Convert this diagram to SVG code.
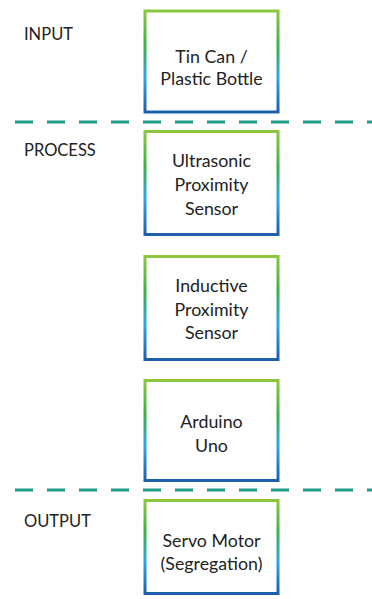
<svg xmlns="http://www.w3.org/2000/svg" width="372" height="599" viewBox="0 0 372 599">
<defs>
<linearGradient id="g" x1="0" y1="0" x2="0" y2="1">
<stop offset="0" stop-color="#8cc63f"/>
<stop offset="0.35" stop-color="#3bb04a"/>
<stop offset="0.65" stop-color="#2aaae0"/>
<stop offset="1" stop-color="#1d5fab"/>
</linearGradient>
<style>
.box{fill:#ffffff;stroke:url(#g);stroke-width:3}
.t{font-family:Lato,"Open Sans",sans-serif;font-size:17.8px;fill:#222;text-anchor:middle}
.lab{font-family:Lato,"Open Sans",sans-serif;font-size:16.5px;fill:#222}
.dash{stroke:#1f9e86;stroke-width:3;stroke-dasharray:18 14;fill:none}
</style>
</defs>
<rect width="372" height="599" fill="#ffffff"/>
<g id="connectors">
<line class="dash" x1="15" y1="122" x2="372" y2="122"/>
<line class="dash" x1="15" y1="490" x2="372" y2="490"/>
</g>
<g id="labels">
<text class="lab" x="24" y="40">INPUT</text>
<text class="lab" x="24" y="156">PROCESS</text>
<text class="lab" x="24" y="527">OUTPUT</text>
</g>
<g id="n1">
<rect class="box" x="145" y="11" width="133" height="101"/>
<text class="t" x="211.5" y="63">Tin Can /</text>
<text class="t" x="211.5" y="85">Plastic Bottle</text>
</g>
<g id="n2">
<rect class="box" x="145" y="131.5" width="133" height="103"/>
<text class="t" x="211.5" y="167">Ultrasonic</text>
<text class="t" x="211.5" y="191">Proximity</text>
<text class="t" x="211.5" y="215">Sensor</text>
</g>
<g id="n3">
<rect class="box" x="145" y="256.5" width="133" height="103"/>
<text class="t" x="211.5" y="292">Inductive</text>
<text class="t" x="211.5" y="315.5">Proximity</text>
<text class="t" x="211.5" y="339">Sensor</text>
</g>
<g id="n4">
<rect class="box" x="145" y="380.5" width="133" height="100"/>
<text class="t" x="211.5" y="428">Arduino</text>
<text class="t" x="211.5" y="452">Uno</text>
</g>
<g id="n5">
<rect class="box" x="145" y="500.5" width="133" height="93"/>
<text class="t" x="211.5" y="547">Servo Motor</text>
<text class="t" x="211.5" y="570">(Segregation)</text>
</g>
</svg>
